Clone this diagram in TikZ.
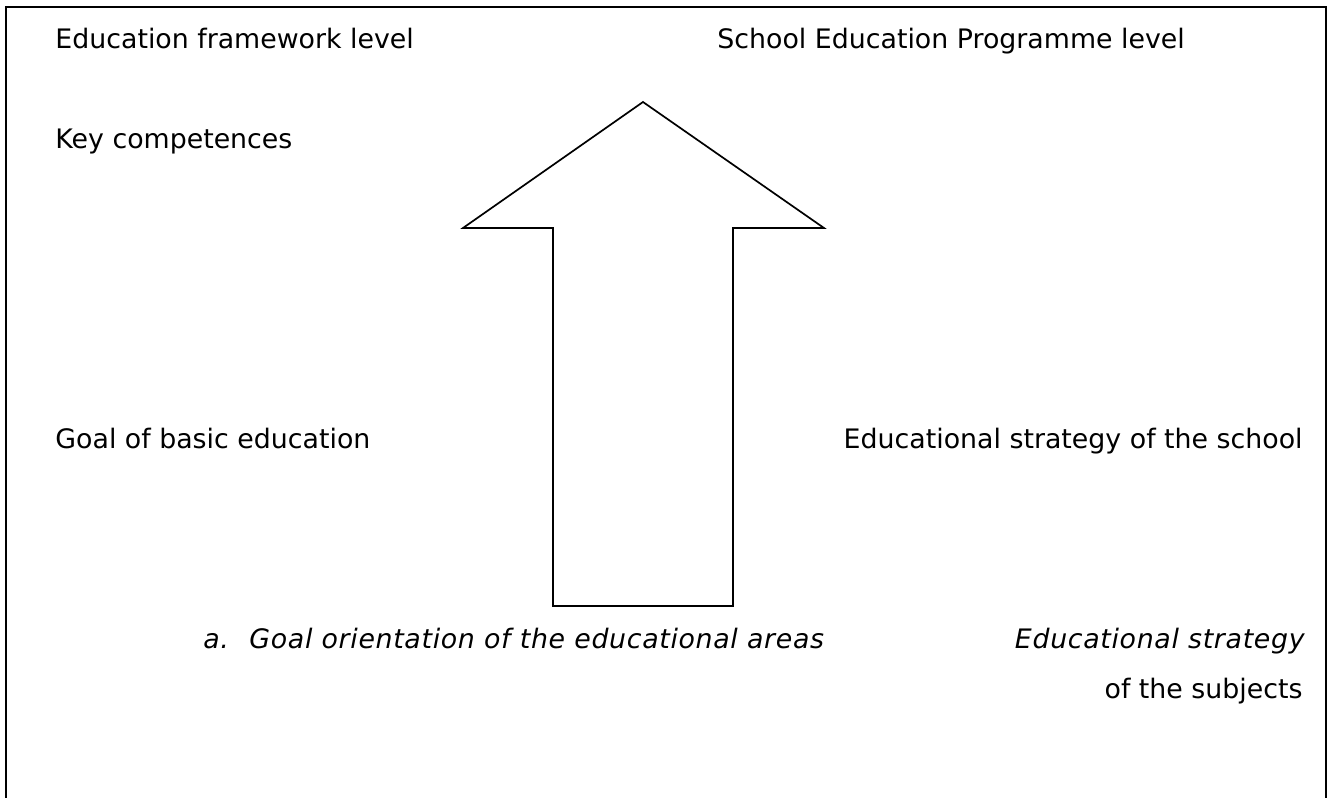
\documentclass[tikz,border=0pt]{standalone}
\usepackage{fontspec}
\setmainfont{DejaVu Sans}
\usepackage{tikz}

\begin{document}
\begin{tikzpicture}[x=0.5pt, y=-0.5pt,
  txt/.style={font=\fontsize{13.4}{16}\selectfont, inner sep=0pt},
  itl/.style={font=\fontsize{13.4}{16}\selectfont\itshape\addfontfeature{LetterSpace=2.5}},
  lft/.style={txt, anchor=base west},
  rgt/.style={txt, anchor=base east}]
\useasboundingbox (0,0) rectangle (1330,798);
% frame, open at the bottom
\draw[line width=1pt] (6,798) -- (6,7) -- (1326,7) -- (1326,798);
% left column
\node (fw)  [lft] at (55,48)  {Education framework level};
\node (key) [lft] at (55,148) {Key competences};
\node (gbe) [lft] at (55,448) {Goal of basic education};
\node (la)  [lft, itl] at (203,648) {a.};
\node (goa) [lft, itl] at (249,648) {Goal orientation of the educational areas};
% right column
\node (sep) [lft] at (717,48)  {School Education Programme level};
\node (ess) [rgt] at (1303,448) {Educational strategy of the school};
\node (esu) [rgt, itl] at (1305,648) {Educational strategy};
\node (sub) [rgt] at (1303,698) {of the subjects};
% big arrow
\draw[line width=0.85pt] (553,606) -- (553,228) -- (463,228) -- (643,102)
  -- (824,228) -- (733,228) -- (733,606) -- cycle;
\end{tikzpicture}
\end{document}
